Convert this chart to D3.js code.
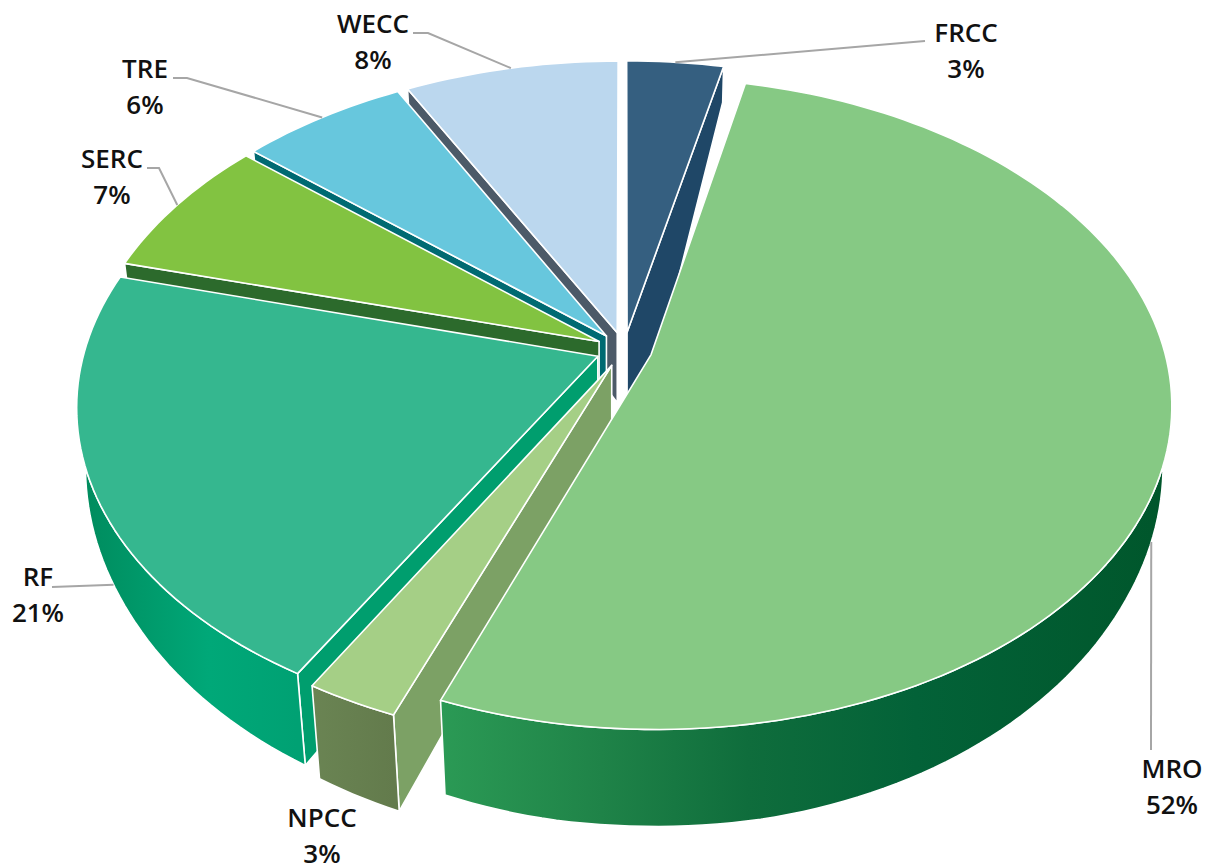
<!DOCTYPE html>
<html><head><meta charset="utf-8">
<script src="https://cdn.jsdelivr.net/npm/d3@7/dist/d3.min.js"></script>
<style>html,body{margin:0;background:#fff}svg{display:block}text{font-family:"Open Sans",sans-serif;font-weight:600;font-size:26px;fill:#111;text-anchor:middle}</style>
</head><body><div id="chart"></div>
<script>
// ---- data ----
const categories = ["FRCC","MRO","NPCC","RF","SERC","TRE","WECC"];
const shares     = [3.5, 52.35, 2.5, 20.8, 7.05, 6.05, 7.75];
const percentLabels = ["3%","52%","3%","21%","7%","6%","8%"];

// ---- styles ----
const topColors = ["#355f80","#86c984","#a5cf86","#35b78f","#82c341","#67c7dd","#bbd7ee"];
const cutColors = ["#1f4767","#2b9a55","#7ca165","#009e6e","#2c6a2c","#006a72","#4c5a68"];
const wallStops = [
  [[0,"#1f4767"],[1,"#1f4767"]],
  [[0,"#2b9a55"],[.22,"#1f8348"],[.42,"#0f6d3c"],[.65,"#036238"],[1,"#00562b"]],
  [[0,"#6a8453"],[1,"#637b4c"]],
  [[0,"#008a5c"],[.6,"#00a878"],[1,"#00a173"]],
  [[0,"#2c6a2c"],[1,"#2c6a2c"]],
  [[0,"#006a72"],[1,"#006a72"]],
  [[0,"#4c5a68"],[1,"#4c5a68"]]
];
const drawOrder = ["FRCC","WECC","TRE","SERC","RF","NPCC","MRO"];

// ---- layout ----
const W = 1207, H = 865;
const cx = 624, cy = 349.5, Rx = 513, Ry = 317, persp = 0.15, explode = 0.055;
const apexDepth = 70;
const apexShift = [20,0,0,0,0,0,0];
const rimDepth = d3.scaleLinear().domain([-1,0,.5,1]).range([36,56,74,97]).clamp(true);
const tilt = 0.025;
const labelPos = [[966,42],[1172,778],[322,827],[38,586],[112,168],[145,78],[373,33]];
const leaderFrac = [.5,.52,.5,.44,.5,.5,.5];
const leaderOnWall = [false,true,false,true,false,false,false];
const leaderEnds = [[[925,41]],[[1151,750]],[],[[52,587]],[[147,168],[159,168]],[[173,78],[187,78]],[[413,33],[428,33]]];

const svg = d3.select("#chart").append("svg").attr("width",W).attr("height",H);
const defs = svg.append("defs");

const arcs = d3.pie().sort(null).startAngle(0).endAngle(Math.PI*2)(shares);
const lineGen = d3.line();

function world(a, r, d){
  const m = (d.startAngle+d.endAngle)/2;
  return [explode*Math.sin(m)+r*Math.sin(a), -explode*Math.cos(m)-r*Math.cos(a)];
}
function project([X,Y]){
  const w = 1/(1-persp*Y);
  return [cx+Rx*X*w, cy+Ry*Y*w];
}
function lower(p, depth){
  return [p[0]-(p[0]-cx)*tilt*depth/97, p[1]+depth];
}
function rim(d){
  const n = Math.max(6,Math.ceil((d.endAngle-d.startAngle)*40));
  return d3.range(n+1).map(i=>{
    const a = d.startAngle+(d.endAngle-d.startAngle)*i/n;
    const wp = world(a,1,d), p = project(wp);
    return {a, top:p, bottom:lower(p,rimDepth(wp[1]))};
  });
}

const g = svg.append("g");
drawOrder.forEach(name=>{
  const i = categories.indexOf(name), d = arcs[i];
  const apex = project(world(0,0,d));
  const apexLow = [apex[0],apex[1]+apexDepth];
  const apexLowShift = [apexLow[0]+apexShift[i],apexLow[1]];
  const pts = rim(d), first = pts[0], last = pts[pts.length-1];

  const gid = "wall"+i;
  const xs = pts.map(p=>p.top[0]);
  const grad = defs.append("linearGradient").attr("id",gid).attr("gradientUnits","userSpaceOnUse")
    .attr("x1",d3.min(xs)).attr("x2",d3.max(xs)).attr("y1",0).attr("y2",0);
  wallStops[i].forEach(s=>grad.append("stop").attr("offset",s[0]).attr("stop-color",s[1]));

  const add = (points,fill)=>g.append("path").attr("d",lineGen(points)+"Z").attr("fill",fill)
    .attr("stroke","#fff").attr("stroke-width",1.6).attr("stroke-linejoin","round");

  // cut faces: only those whose outward normal looks toward the viewer
  if(-Math.sin(d.startAngle) > 1e-6) add([apex,first.top,first.bottom,apexLow],cutColors[i]);
  if(Math.sin(d.endAngle) > 1e-6) add([apex,last.top,last.bottom,apexLowShift,apexLow],cutColors[i]);
  // outer wall: only the part of the rim that faces the viewer
  const front = pts.filter(p=>Math.cos(p.a) < 0.15);
  if(front.length > 1) add(front.map(p=>p.top).concat(front.map(p=>p.bottom).reverse()),`url(#${gid})`);
  // top face
  add([apex].concat(pts.map(p=>p.top)),topColors[i]);
});

// leaders
const lg = svg.append("g");
categories.forEach((c,i)=>{
  if(!leaderEnds[i].length) return;
  const d = arcs[i];
  const a = d.startAngle+(d.endAngle-d.startAngle)*leaderFrac[i];
  const wp = world(a,1,d);
  let p = project(wp);
  if(leaderOnWall[i]) p = lower(p,rimDepth(wp[1]));
  lg.append("path").attr("d",lineGen(leaderEnds[i].concat([p]))).attr("fill","none").attr("stroke","#a6a6a6").attr("stroke-width",2);
});

// labels
const tg = svg.append("g");
categories.forEach((c,i)=>{
  const [x,y] = labelPos[i];
  tg.append("text").attr("x",x).attr("y",y).text(c);
  tg.append("text").attr("x",x).attr("y",y+35.5).text(percentLabels[i]);
});
</script></body></html>
